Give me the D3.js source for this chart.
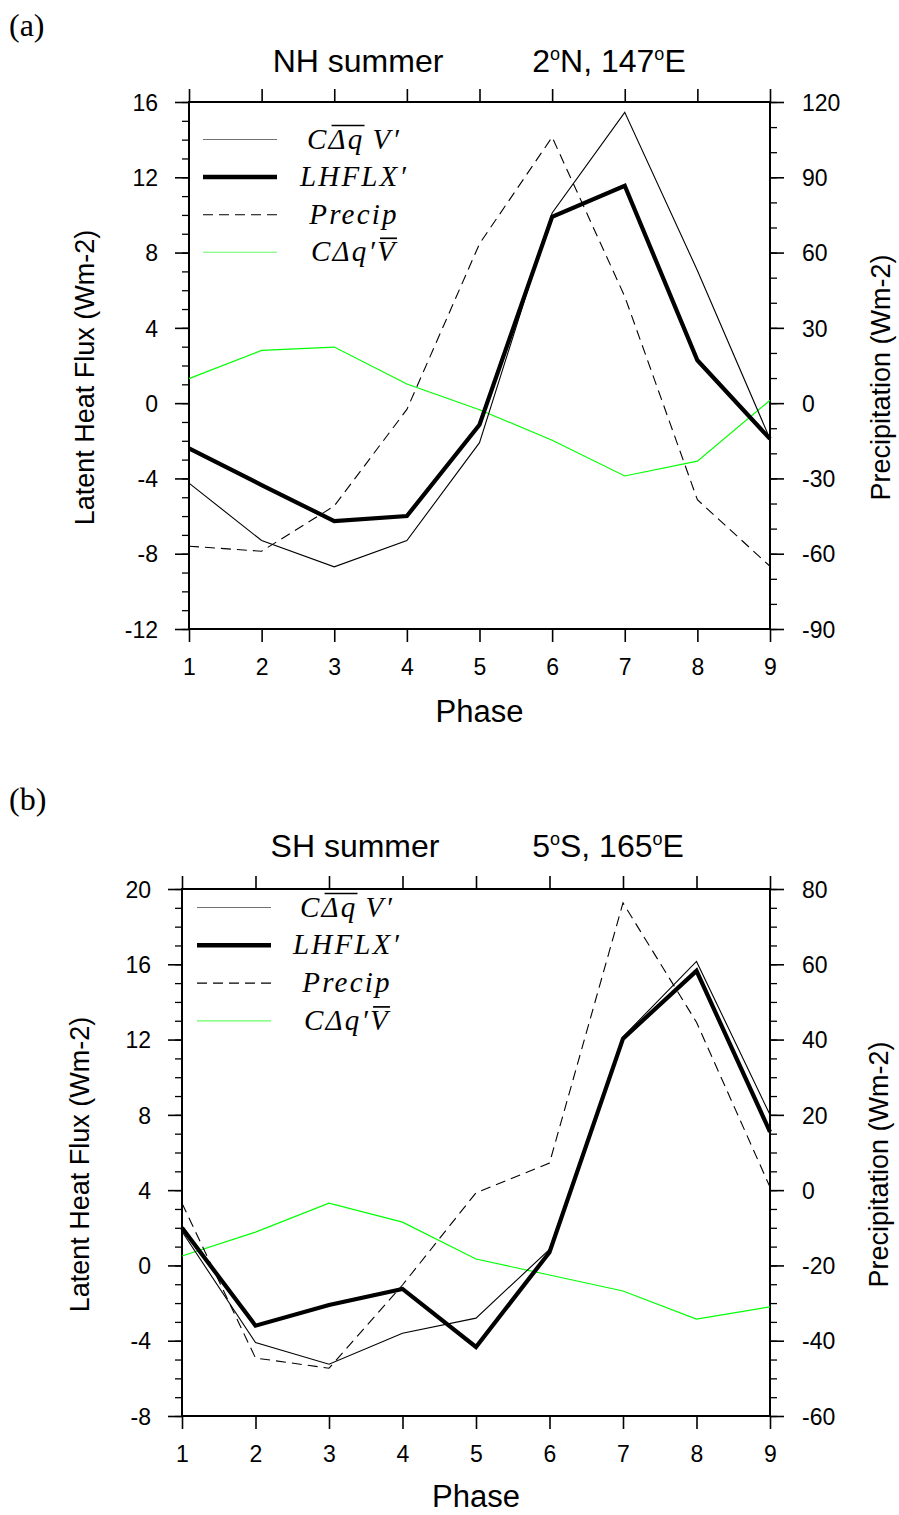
<!DOCTYPE html>
<html><head><meta charset="utf-8">
<script src="https://cdn.jsdelivr.net/npm/d3@7"></script>
<style>
html,body{margin:0;padding:0;background:#fff;}
svg{display:block;}
</style></head>
<body>
<script>
// ---------- DATA ----------
const phases = [1,2,3,4,5,6,7,8,9];

// Panel (a) NH summer, 2N 147E
const a_CdqbarV = [-4.25,-7.3,-8.7,-7.3,-2.1,10.1,15.45,7.05,-1.9];
const a_LHFLX   = [-2.4,-4.35,-6.27,-6.0,-1.15,9.9,11.55,2.28,-1.9];
const a_Precip  = [-57,-59,-41,-2.5,63.5,106,42.5,-38.5,-65];   // right axis
const a_CdqVbar = [1.3,2.8,2.98,1.02,-0.35,-1.97,-3.87,-3.08,0.15];

// Panel (b) SH summer, 5S 165E
const b_CdqbarV = [1.8,-4.1,-5.25,-3.6,-2.8,0.85,12.15,16.15,8.0];
const b_LHFLX   = [2.0,-3.2,-2.1,-1.25,-4.33,0.7,12.05,15.65,7.1];
const b_Precip  = [-3.5,-44.6,-47.3,-25.2,-0.7,7.2,76.3,44.6,0.8]; // right axis
const b_CdqVbar = [0.5,1.77,3.31,2.3,0.34,-0.51,-1.36,-2.85,-2.2];

const a_leftTicks = [-12,-8,-4,0,4,8,12,16];
const a_rightTicks = [-90,-60,-30,0,30,60,90,120];
const b_leftTicks = [-8,-4,0,4,8,12,16,20];
const b_rightTicks = [-60,-40,-20,0,20,40,60,80];

const legendNames = ["CdqbarV","LHFLX","Precip","CdqVbar"];
// -------------------------

const W = 899, H = 1515;
const svg = d3.select("body").append("svg").attr("width", W).attr("height", H)
  .style("font-family", "'Liberation Sans', Arial, Helvetica, sans-serif");

const SANS = "'Liberation Sans', Arial, sans-serif";
const SERIF = "'Liberation Serif', 'DejaVu Serif', serif";
const fmt = d => String(d);

function drawPanel(o) {
  const g = svg.append("g");
  const x = d3.scaleLinear().domain([1, 9]).range([o.left, o.right]);
  const yL = d3.scaleLinear().domain([o.leftTicks[0], o.leftTicks[o.leftTicks.length-1]]).range([o.bottom, o.top]);
  const yR = d3.scaleLinear().domain([o.rightTicks[0], o.rightTicks[o.rightTicks.length-1]]).range([o.bottom, o.top]);

  // minor ticks
  const lMin = d3.range(yL.domain()[0], yL.domain()[1] + 1e-9, o.leftMinor);
  const rMin = d3.range(yR.domain()[0], yR.domain()[1] + 1e-9, o.rightMinor);
  g.append("g").attr("transform", `translate(${o.left},0)`)
    .call(d3.axisLeft(yL).tickValues(lMin).tickSize(7).tickSizeOuter(0).tickFormat(""))
    .call(s => s.select(".domain").remove())
    .call(s => s.selectAll("line").attr("stroke-width", 1.3));
  g.append("g").attr("transform", `translate(${o.right},0)`)
    .call(d3.axisRight(yR).tickValues(rMin).tickSize(7).tickSizeOuter(0).tickFormat(""))
    .call(s => s.select(".domain").remove())
    .call(s => s.selectAll("line").attr("stroke-width", 1.3));

  // major left
  const la = g.append("g").attr("transform", `translate(${o.left},0)`)
    .call(d3.axisLeft(yL).tickValues(o.leftTicks).tickSize(14).tickSizeOuter(0).tickPadding(17).tickFormat(fmt));
  la.select(".domain").remove();
  la.selectAll("line").attr("stroke-width", 1.6);
  la.selectAll("text").attr("font-size", 23).attr("font-family", SANS).attr("fill", "#000").attr("dy", "0.36em");

  const ra = g.append("g").attr("transform", `translate(${o.right},0)`)
    .call(d3.axisRight(yR).tickValues(o.rightTicks).tickSize(14).tickSizeOuter(0).tickPadding(18).tickFormat(fmt));
  ra.select(".domain").remove();
  ra.selectAll("line").attr("stroke-width", 1.6);
  ra.selectAll("text").attr("font-size", 23).attr("font-family", SANS).attr("fill", "#000").attr("dy", "0.36em");

  const ba = g.append("g").attr("transform", `translate(0,${o.bottom})`)
    .call(d3.axisBottom(x).tickValues(phases).tickSize(13).tickSizeOuter(0).tickPadding(17).tickFormat(fmt));
  ba.select(".domain").remove();
  ba.selectAll("line").attr("stroke-width", 1.6);
  ba.selectAll("text").attr("font-size", 23).attr("font-family", SANS).attr("fill", "#000");

  const ta = g.append("g").attr("transform", `translate(0,${o.top})`)
    .call(d3.axisTop(x).tickValues(phases).tickSize(13).tickSizeOuter(0).tickFormat(""));
  ta.select(".domain").remove();
  ta.selectAll("line").attr("stroke-width", 1.6);

  // frame
  g.append("rect").attr("x", o.left).attr("y", o.top)
    .attr("width", o.right - o.left).attr("height", o.bottom - o.top)
    .attr("fill", "none").attr("stroke", "#000").attr("stroke-width", 2);

  // series
  const lineL = d3.line().x((d, i) => x(phases[i])).y(d => yL(d));
  const lineR = d3.line().x((d, i) => x(phases[i])).y(d => yR(d));
  const styles = {
    CdqbarV: {stroke: "#000", w: 1.1, dash: null},
    LHFLX:   {stroke: "#000", w: 4.2, dash: null},
    Precip:  {stroke: "#000", w: 1.1, dash: "10,6"},
    CdqVbar: {stroke: "#00ff00", w: 1.2, dash: null}
  };
  const ser = [
    {k: "CdqVbar", d: o.CdqVbar, f: lineL},
    {k: "Precip", d: o.Precip, f: lineR},
    {k: "CdqbarV", d: o.CdqbarV, f: lineL},
    {k: "LHFLX", d: o.LHFLX, f: lineL}
  ];
  ser.forEach(s => {
    const st = styles[s.k];
    g.append("path").attr("d", s.f(s.d)).attr("fill", "none")
      .attr("stroke", st.stroke).attr("stroke-width", st.w)
      .attr("stroke-dasharray", st.dash).attr("stroke-linejoin", "miter");
  });

  // legend
  const legendTexts = {
    CdqbarV: [{t: "C"}, {t: "Δq", over: true}, {t: "\u2009V′"}],
    LHFLX: [{t: "LHFLX′"}],
    Precip: [{t: "Precip"}],
    CdqVbar: [{t: "CΔq′"}, {t: "V", over: true}]
  };
  legendNames.forEach((k, i) => {
    const ly = o.legTop + i * o.legStep;
    const st = styles[k];
    g.append("line").attr("x1", o.left + o.legX0).attr("x2", o.left + o.legX1)
      .attr("y1", ly).attr("y2", ly).attr("stroke", st.stroke)
      .attr("stroke-width", k === "LHFLX" ? 4.5 : 1.1).attr("stroke-dasharray", st.dash)
      .attr("opacity", k === "CdqbarV" ? 0.55 : (k === "CdqVbar" ? 0.6 : 1));
    const txt = g.append("text").attr("y", ly + 9).attr("font-family", SERIF)
      .attr("font-style", "italic").attr("font-size", 29).attr("letter-spacing", 2.2).attr("fill", "#000");
    const parts = legendTexts[k];
    parts.forEach(p => txt.append("tspan").text(p.t));
    const node = txt.node();
    const total = node.getComputedTextLength();
    const x0 = o.legCx - total / 2;
    txt.attr("x", x0);
    let idx = 0;
    parts.forEach(p => {
      const len = p.t.length;
      if (p.over) {
        const start = idx > 0 ? node.getSubStringLength(0, idx) : 0;
        const w = node.getSubStringLength(idx, len);
        g.append("line").attr("x1", x0 + start + 3).attr("x2", x0 + start + w)
          .attr("y1", ly - 14).attr("y2", ly - 14).attr("stroke", "#000").attr("stroke-width", 1.7);
      }
      idx += len;
    });
  });

  // axis titles
  const cy = (o.top + o.bottom) / 2 + 12;
  g.append("text").attr("transform", `translate(${o.lTitleX},${cy}) rotate(-90)`)
    .attr("text-anchor", "middle").attr("font-size", 27).attr("font-family", SANS)
    .text("Latent Heat Flux (Wm-2)");
  g.append("text").attr("transform", `translate(${o.rTitleX},${cy}) rotate(-90)`)
    .attr("text-anchor", "middle").attr("font-size", 27).attr("font-family", SANS)
    .text("Precipitation (Wm-2)");
  g.append("text").attr("x", (o.left + o.right) / 2).attr("y", o.phaseY)
    .attr("text-anchor", "middle").attr("font-size", 31).attr("font-family", SANS).text("Phase");

  // titles
  g.append("text").attr("x", o.t1x).attr("y", o.titleY).attr("text-anchor", "middle")
    .attr("font-size", 32).attr("font-family", SANS).text(o.t1);
  const t2 = g.append("text").attr("x", o.t2x).attr("y", o.titleY).attr("text-anchor", "middle")
    .attr("font-size", 32).attr("font-family", SANS);
  let raised = false;
  o.t2.forEach(p => {
    if (p.sup) {
      t2.append("tspan").attr("dy", -12).attr("font-size", 18).text(p.t);
      raised = true;
    } else {
      const ts = t2.append("tspan").text(p.t);
      if (raised) { ts.attr("dy", 12); raised = false; }
    }
  });

  // panel label
  g.append("text").attr("x", 9).attr("y", o.labY).attr("font-family", SERIF)
    .attr("font-size", 32).text(o.lab);
}

drawPanel({
  left: 189, right: 770, top: 102, bottom: 629,
  leftTicks: a_leftTicks, rightTicks: a_rightTicks, leftMinor: 1, rightMinor: 10,
  CdqbarV: a_CdqbarV, LHFLX: a_LHFLX, Precip: a_Precip, CdqVbar: a_CdqVbar,
  legTop: 139.5, legStep: 37.6, legX0: 14, legX1: 88, legCx: 354,
  lTitleX: 94, rTitleX: 890, phaseY: 722,
  t1: "NH summer", t1x: 358, t2x: 609, titleY: 72,
  t2: [{t: "2"}, {t: "o", sup: true}, {t: "N, 147"}, {t: "o", sup: true}, {t: "E"}],
  lab: "(a)", labY: 36
});
drawPanel({
  left: 182, right: 770, top: 889, bottom: 1416,
  leftTicks: b_leftTicks, rightTicks: b_rightTicks, leftMinor: 1, rightMinor: 5,
  CdqbarV: b_CdqbarV, LHFLX: b_LHFLX, Precip: b_Precip, CdqVbar: b_CdqVbar,
  legTop: 907.5, legStep: 37.8, legX0: 15, legX1: 89, legCx: 347,
  lTitleX: 89, rTitleX: 888, phaseY: 1507,
  t1: "SH summer", t1x: 355, t2x: 608, titleY: 857,
  t2: [{t: "5"}, {t: "o", sup: true}, {t: "S, 165"}, {t: "o", sup: true}, {t: "E"}],
  lab: "(b)", labY: 810
});
</script>
</body></html>
